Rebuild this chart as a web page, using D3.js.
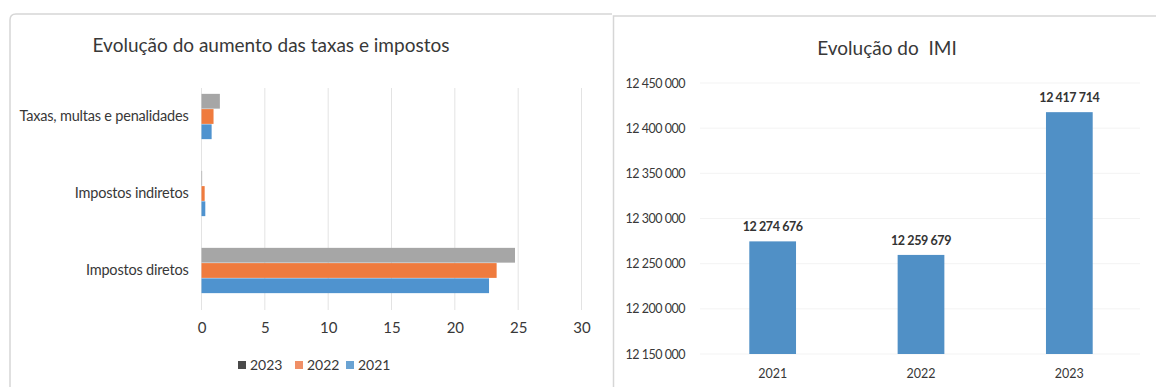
<!DOCTYPE html>
<html>
<head>
<meta charset="utf-8">
<script src="https://cdn.jsdelivr.net/npm/d3@7"></script>
<style>
  html, body { margin: 0; padding: 0; background: #fff; }
  svg { display: block; font-family: Lato, "Open Sans", sans-serif; }
</style>
</head>
<body>
<svg id="chart" width="1156" height="387"></svg>
<script>
// left chart: increase of fees and taxes
const categories = ["Taxas, multas e penalidades", "Impostos indiretos", "Impostos diretos"];
const seriesYears = ["2023", "2022", "2021"];
const values2023 = [1.45, 0.05, 24.75];
const values2022 = [0.95, 0.25, 23.3];
const values2021 = [0.8, 0.3, 22.7];
const xTicks = [0, 5, 10, 15, 20, 25, 30];

// right chart: IMI
const imiYears = ["2021", "2022", "2023"];
const imiValues = [12274676, 12259679, 12417714];
const imiTicks = [12150000, 12200000, 12250000, 12300000, 12350000, 12400000, 12450000];

const seriesColor = { "2023": "#a6a6a6", "2022": "#ef7b3e", "2021": "#4f93cf" };
const legendColor = { "2023": "#4a4a4a", "2022": "#f08f66", "2021": "#6aa3d3" };
const textColor = "#383838";

const svg = d3.select("#chart");

// panel frames
svg.append("path")
  .attr("d", "M10,387 L10,20 Q10,14 16,14 L612,14")
  .attr("fill", "none")
  .attr("stroke", "#d6d6d6")
  .attr("stroke-width", 1.5);
svg.append("path")
  .attr("d", "M613.5,387 L613.5,16 L1156,16")
  .attr("fill", "none")
  .attr("stroke", "#d6d6d6")
  .attr("stroke-width", 1.5);

// ---------- left: horizontal grouped bars ----------
const rows = categories.map((c, i) => ({
  category: c,
  "2023": values2023[i],
  "2022": values2022[i],
  "2021": values2021[i],
}));

const x = d3.scaleLinear().domain([0, 30]).range([201.5, 581.5]);
const y = d3.scaleBand().domain(categories).range([78, 309])
  .paddingInner(0.4).paddingOuter(0.2);
const ySub = d3.scaleBand().domain(seriesYears).range([0, y.bandwidth()]).padding(0.03);

const left = svg.append("g");

left.append("text")
  .attr("x", 271)
  .attr("y", 52)
  .attr("text-anchor", "middle")
  .attr("font-size", 19)
  .attr("fill", textColor)
  .text("Evolução do aumento das taxas e impostos");

left.append("g")
  .selectAll("line")
  .data(xTicks)
  .join("line")
  .attr("x1", (d) => x(d))
  .attr("x2", (d) => x(d))
  .attr("y1", 88)
  .attr("y2", 310)
  .attr("stroke", "#e3e3e3")
  .attr("stroke-width", 1);

left.append("g")
  .selectAll("g")
  .data(rows)
  .join("g")
  .attr("transform", (d) => `translate(0,${y(d.category)})`)
  .selectAll("rect")
  .data((d) => seriesYears.map((s) => ({ key: s, value: d[s] })))
  .join("rect")
  .attr("x", x(0))
  .attr("y", (d) => ySub(d.key))
  .attr("width", (d) => x(d.value) - x(0))
  .attr("height", ySub.bandwidth())
  .attr("fill", (d) => seriesColor[d.key]);

const yAxis = left.append("g")
  .attr("transform", `translate(${x(0) - 13},0)`)
  .call(d3.axisLeft(y).tickSize(0).tickPadding(0));
yAxis.select(".domain").remove();
yAxis.selectAll("text")
  .attr("font-family", "Lato, sans-serif")
  .attr("font-size", 14.5)
  .attr("letter-spacing", -0.2)
  .attr("fill", textColor);

const xAxis = left.append("g")
  .attr("transform", "translate(0,322)")
  .call(d3.axisBottom(x).tickValues(xTicks).tickSize(0).tickPadding(0));
xAxis.select(".domain").remove();
xAxis.selectAll("text")
  .attr("font-family", "Lato, sans-serif")
  .attr("font-size", 15)
  .attr("fill", textColor);

// legend
const legendX = [238, 295, 346];
const legend = left.append("g")
  .selectAll("g")
  .data(seriesYears)
  .join("g")
  .attr("transform", (d, i) => `translate(${legendX[i]},365)`);
legend.append("rect")
  .attr("x", 0)
  .attr("y", -4)
  .attr("width", 8)
  .attr("height", 8)
  .attr("fill", (d) => legendColor[d]);
legend.append("text")
  .attr("x", 12)
  .attr("y", 5)
  .attr("font-size", 14)
  .attr("fill", textColor)
  .text((d) => d);

// ---------- right: IMI columns ----------
const fmt = (v) => d3.format(",")(v).replace(/,/g, " ");

const xi = d3.scaleBand().domain(imiYears).range([698.5, 1143.5])
  .paddingInner(0.685).paddingOuter(0.3425);
const yi = d3.scaleLinear().domain([12150000, 12450000]).range([354, 83]);

const right = svg.append("g");

right.append("text")
  .attr("x", 887)
  .attr("y", 55)
  .attr("text-anchor", "middle")
  .attr("font-size", 19)
  .attr("fill", textColor)
  .attr("xml:space", "preserve")
  .text("Evolução do  IMI");

right.append("g")
  .selectAll("line")
  .data(imiTicks)
  .join("line")
  .attr("x1", 700)
  .attr("x2", 1140)
  .attr("y1", (d) => yi(d))
  .attr("y2", (d) => yi(d))
  .attr("stroke", "#f3f3f3")
  .attr("stroke-width", 1);

const yiAxis = right.append("g")
  .attr("transform", "translate(685,0)")
  .call(d3.axisLeft(yi).tickValues(imiTicks).tickFormat(fmt).tickSize(0).tickPadding(0));
yiAxis.select(".domain").remove();
yiAxis.selectAll("text")
  .attr("font-family", "Lato, sans-serif")
  .attr("font-size", 12.5)
  .attr("letter-spacing", -0.5)
  .attr("fill", textColor);

const imiRows = imiYears.map((yr, i) => ({ year: yr, value: imiValues[i] }));

right.append("g")
  .selectAll("rect")
  .data(imiRows)
  .join("rect")
  .attr("x", (d) => xi(d.year))
  .attr("y", (d) => yi(d.value))
  .attr("width", xi.bandwidth())
  .attr("height", (d) => yi(12150000) - yi(d.value))
  .attr("fill", "#5090c6");

right.append("g")
  .selectAll("text")
  .data(imiRows)
  .join("text")
  .attr("x", (d) => xi(d.year) + xi.bandwidth() / 2)
  .attr("y", (d) => yi(d.value) - 10)
  .attr("text-anchor", "middle")
  .attr("font-size", 12.5)
  .attr("font-weight", "bold")
  .attr("letter-spacing", -0.4)
  .attr("fill", "#333")
  .text((d) => fmt(d.value));

const xiAxis = right.append("g")
  .attr("transform", "translate(0,369)")
  .call(d3.axisBottom(xi).tickSize(0).tickPadding(0));
xiAxis.select(".domain").remove();
xiAxis.selectAll("text")
  .attr("font-family", "Lato, sans-serif")
  .attr("font-size", 12.5)
  .attr("fill", textColor);
</script>
</body>
</html>
